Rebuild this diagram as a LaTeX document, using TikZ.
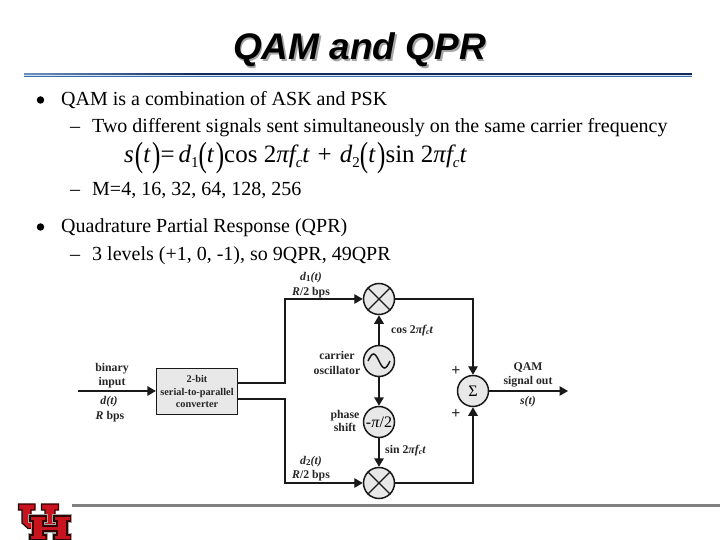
\documentclass[tikz,border=0pt]{standalone}
\usepackage{fontspec}
\setmainfont{Liberation Serif}
\newfontfamily\arialf{Liberation Sans}
\usetikzlibrary{arrows.meta,calc}
\definecolor{uhred}{HTML}{C8141E}
\definecolor{panelgrey}{HTML}{E8E8E8}
\definecolor{navyrule}{HTML}{14285A}
\definecolor{steelrule}{HTML}{6E90C0}
\definecolor{lowrule}{HTML}{3C6EAA}
\definecolor{palerule}{HTML}{D5E2F0}
\tikzset{
  x=1pt,y=-1pt,
  ttl/.style={anchor=base,inner sep=0,font=\arialf\fontsize{37}{37}\selectfont\bfseries\itshape},
  bodytext/.style={anchor=base west,inner sep=0,font=\fontsize{20}{22}\selectfont},
  eqtext/.style={anchor=base west,inner sep=0,font=\fontsize{25}{26}\selectfont},
  lab/.style={anchor=base,inner sep=0,font=\fontsize{11.8}{12}\selectfont\bfseries,text=black!85},
  labw/.style={lab,anchor=base west},
  boxtext/.style={anchor=base,inner sep=0,font=\fontsize{10.3}{11}\selectfont\bfseries,text=black!85},
  conn/.style={line width=1.3pt,draw=black!90},
  arr/.style={conn,-{Triangle[length=8.5pt,width=9.5pt]}},
  ring/.style={circle,draw=black!90,line width=1.5pt,fill=panelgrey,minimum size=31pt,inner sep=0},
  blk/.style={draw=black!90,line width=1.3pt,fill=panelgrey,minimum width=81pt,minimum height=46pt,inner sep=0},
  dot/.style={circle,fill=black,inner sep=0,minimum size=7.5pt},
  logoout/.style={draw=black!35,line width=3.4pt,line join=miter},
  logo/.style={draw=black!80!red,fill=uhred,line width=1.2pt,line join=miter},
}
\newcommand{\bigp}[1]{\raisebox{-4pt}{\upshape\scalebox{1}[1.4]{#1}}}
\newcommand{\eqsub}[1]{\raisebox{-5pt}{\fontsize{15}{15}\selectfont #1}}
\begin{document}
\begin{tikzpicture}
\useasboundingbox (0,0) rectangle (720,540);
\fill[white] (0,0) rectangle (720,540);
% title
\node[ttl,text=black!35] (titleshadow) at (361,62) {QAM and QPR};
\node[ttl] (title) at (359.5,60) {QAM and QPR};
% header rule
\fill[navyrule] (24,73) rectangle (692,75.5);
\foreach \i in {0,...,43} {
  \pgfmathtruncatemacro{\mixv}{\i*100/43}
  \fill[navyrule!\mixv!steelrule] (24+\i*4,73) rectangle (28.3+\i*4,75.5);
}
\fill[palerule] (24,75.5) rectangle (692,76);
\fill[lowrule] (24,76) rectangle (692,77.5);
% body
\node[dot] (b1) at (40.5,100) {};
\node[bodytext] (t1) at (61,106) {QAM is a combination of ASK and PSK};
\node[bodytext] (d1) at (70,133) {–};
\node[bodytext] (t2) at (92,133) {Two different signals sent simultaneously on the same carrier frequency};
\node[bodytext] (d2) at (70,196) {–};
\node[bodytext] (t3) at (92,196) {M=4, 16, 32, 64, 128, 256};
\node[dot] (b2) at (40.5,227) {};
\node[bodytext] (t4) at (61,233) {Quadrature Partial Response (QPR)};
\node[bodytext] (d3) at (70,260) {–};
\node[bodytext] (t5) at (92,260) {3 levels (+1, 0, -1), so 9QPR, 49QPR};
% equation
\node[eqtext] (eq) at (124,163) {\itshape s\hspace{1pt}\bigp{(}t\hspace{2pt}\bigp{)}\upshape=\hspace{4pt}\itshape d\upshape\eqsub{1}\bigp{(}\itshape t\hspace{2pt}\upshape\bigp{)}cos 2\itshape πf\upshape\eqsub{\itshape c}\itshape t\upshape\hspace{2pt}\ + \hspace{2pt}\itshape d\upshape\eqsub{2}\bigp{(}\itshape t\hspace{2pt}\upshape\bigp{)}sin 2\itshape πf\upshape\eqsub{\itshape c}\itshape t};
% diagram nodes
\node[blk] (conv) at (197,391.5) {};
\node[boxtext] (c1) at (197,382) {2-bit};
\node[boxtext] (c2) at (197,395) {serial-to-parallel};
\node[boxtext] (c3) at (197,407) {converter};
\node[ring] (m1) at (379,299) {};
\node[ring] (osc) at (379,361) {};
\node[ring,font=\fontsize{16}{16}\selectfont] (ph) at (379,422) {-\textit{π}/2};
\node[ring] (m2) at (379,483) {};
\node[ring,font=\fontsize{16}{16}\selectfont] (sum) at (473,391) {Σ};
\draw[conn] (m1.45) -- (m1.225) (m1.135) -- (m1.315);
\draw[conn] (m2.45) -- (m2.225) (m2.135) -- (m2.315);
\draw[conn,line width=1.5pt] ($(osc)+(-11,0)$) sin ($(osc)+(-5.5,-7)$) cos ($(osc)+(0,0)$) sin ($(osc)+(5.5,7)$) cos ($(osc)+(11,0)$);
% connectors
\coordinate (inS) at (78,391);
\coordinate (outE) at (568,391);
\coordinate (cA) at (237.5,383);
\coordinate (cB) at (237.5,399);
\coordinate (bA) at (285,383);
\coordinate (bB) at (285,399);
\draw[arr] (inS) -- (conv.west|-inS);
\draw[arr] (cA) -- (bA) |- (m1.west);
\draw[arr] (cB) -- (bB) |- (m2.west);
\draw[arr,line width=1.6pt] (osc.north) -- (m1.south);
\draw[arr,line width=1.6pt] (osc.south) -- (ph.north);
\draw[arr,line width=1.6pt] (ph.south) -- (m2.north);
\draw[arr] (m1.east) -| (sum.north);
\draw[arr] (m2.east) -| (sum.south);
\draw[arr] (sum.east) -- (outE);
% diagram labels
\node[lab] (l1) at (112,371) {binary};
\node[lab] (l2) at (112,385) {input};
\node[lab] (l3) at (109,404) {\itshape d(t)};
\node[lab] (l4) at (110,419) {\itshape R\upshape\ bps};
\node[lab] (l5) at (311,280) {\itshape d\upshape\raisebox{-1.5pt}{\fontsize{9}{9}\selectfont 1}\itshape(t)};
\node[lab] (l6) at (311,295) {\itshape R\upshape/2 bps};
\node[lab] (l7) at (311,464) {\itshape d\upshape\raisebox{-1.5pt}{\fontsize{9}{9}\selectfont 2}\itshape(t)};
\node[lab] (l8) at (311,478) {\itshape R\upshape/2 bps};
\node[lab] (l9) at (337,359) {carrier};
\node[lab] (l10) at (337,374) {oscillator};
\node[lab] (l11) at (345,418) {phase};
\node[lab] (l12) at (345,431) {shift};
\node[labw] (l13) at (391,333) {cos 2\itshape πf\upshape\raisebox{-1.5pt}{\fontsize{8}{8}\selectfont\itshape c}\itshape t};
\node[labw] (l14) at (385,453) {sin 2\itshape πf\upshape\raisebox{-1.5pt}{\fontsize{8}{8}\selectfont\itshape c}\itshape t};
\node[lab,font=\fontsize{16}{16}\selectfont\bfseries] (p1) at (456,375) {+};
\node[lab,font=\fontsize{16}{16}\selectfont\bfseries] (p2) at (456,418) {+};
\node[lab] (l15) at (528,370) {QAM};
\node[lab] (l16) at (528,384) {signal out};
\node[lab] (l17) at (528,404) {\itshape s(t)};
% footer rule
\fill[black!50] (72,503.5) rectangle (720,506.5);
% logo
\def\Ushape{(18.5,504) -- (35,504) -- (35,510) -- (31,510) -- (31,520) -- (45,520) -- (45,510) -- (41.5,510) -- (41.5,504) -- (58.5,504) -- (58.5,510) -- (55,510) -- (55,523) -- (49,528.5) -- (28,528.5) -- (22,523) -- (22,510) -- (18.5,510) -- cycle}
\def\Hshape{(30,516) -- (46,516) -- (46,521) -- (43,521) -- (43,526) -- (57,526) -- (57,521) -- (54,521) -- (54,516) -- (70.5,516) -- (70.5,521) -- (67,521) -- (67,535) -- (70.5,535) -- (70.5,540) -- (54,540) -- (54,535) -- (57,535) -- (57,531) -- (43,531) -- (43,535) -- (46,535) -- (46,540) -- (30,540) -- (30,535) -- (33,535) -- (33,521) -- (30,521) -- cycle}
\draw[logo] \Ushape;
\draw[logoout] \Hshape;
\draw[logo] \Hshape;
\end{tikzpicture}
\end{document}
